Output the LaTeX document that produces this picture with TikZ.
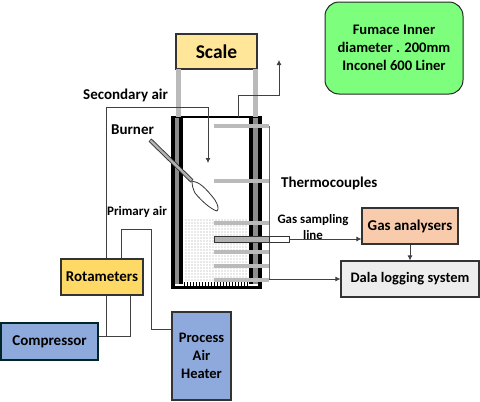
\documentclass[tikz,border=0pt]{standalone}
\usepackage{fontspec}
\setmainfont{Carlito}
\usepackage{tikz}
\usetikzlibrary{arrows.meta}
\definecolor{scalefill}{RGB}{255,230,153}
\definecolor{rotafill}{RGB}{255,217,102}
\definecolor{bluefill}{RGB}{142,169,219}
\definecolor{gasfill}{RGB}{248,203,173}
\definecolor{logfill}{RGB}{237,237,237}
\definecolor{notefill}{RGB}{125,255,125}
\definecolor{tipblue}{RGB}{40,70,130}
\tikzset{
  unitbox/.style={draw=black!80, line width=1.1pt, inner sep=0pt, align=center, font=\bfseries\fontsize{15}{18}\selectfont},
  pipe/.style={draw=black!75, line width=0.8pt},
  flow/.style={pipe, -{Latex[length=5pt,width=5pt,fill=tipblue]}},
  rod/.style={draw=black!27, line width=3.4pt},
  lbl/.style={inner sep=0pt, font=\bfseries\fontsize{15}{18}\selectfont}
}
\begin{document}
\begin{tikzpicture}[x=1pt,y=-1pt]
\useasboundingbox (0,0) rectangle (480,402);
% units
\node [unitbox, fill=scalefill, minimum width=81pt, minimum height=35pt, font=\bfseries\fontsize{19.5}{22}\selectfont] (scale) at (216.5,51.5) {Scale};
\node [draw=black!85, line width=1pt, fill=notefill, rounded corners=14pt, minimum width=138pt, minimum height=92pt, align=center, inner sep=0pt, font=\bfseries\fontsize{14.6}{18}\selectfont] (note) at (394,48) {Fumace Inner\\diameter . 200mm\\Inconel 600 Liner};
\node [unitbox, fill=rotafill, minimum width=82pt, minimum height=36pt] (rota) at (102,277) {Rotameters};
\node [unitbox, fill=bluefill, draw=black!70!teal, minimum width=97pt, minimum height=37pt] (comp) at (49.5,341.5) {Compressor};
\node [unitbox, fill=bluefill, minimum width=59pt, minimum height=88pt, font=\bfseries\fontsize{14.5}{18}\selectfont] (heater) at (201.5,356) {Process\\Air\\Heater};
\node [unitbox, fill=gasfill, minimum width=96pt, minimum height=36pt] (gas) at (410,226) {Gas analysers};
\node [unitbox, fill=logfill, minimum width=138pt, minimum height=36pt, font=\bfseries\fontsize{14.5}{18}\selectfont] (log) at (410,279) {Dala logging system};
% packed bed
\foreach \y in {220,223,...,281} {
  \foreach \x in {186,189,...,248} {
    \fill [black!38] (\x,\y) circle (0.6pt);
  }
}
% furnace walls
\fill [black!45] (175,118) rectangle (180,284);
\fill [black!45] (253,118) rectangle (258,284);
\draw [line width=3.6pt] (172.8,117) -- (172.8,287.5) -- (260.2,287.5) -- (260.2,117);
\draw [line width=3.6pt] (181.2,117) -- (181.2,284);
\draw [line width=3.6pt] (251,117) -- (251,284);
\draw [line width=1.2pt] (171,117) -- (262,117);
\foreach \x in {184,187,...,249} {
  \draw [line width=0.5pt] (\x,282) -- (\x,286);
}
% hanging rods
\draw [rod, line width=5pt] (178,69) -- (178,117);
\draw [rod, line width=5pt] (255,69) -- (255,117);
% thermocouples
\draw [draw=black!60, line width=0.8pt] (269,126) -- (269,279);
\foreach \y in {126,181,223,252,266,280} {
  \draw [rod] (214,\y) -- (269,\y);
}
% burner
\draw [black!80, line width=4.2pt] (150,140) -- (192,181);
\draw [black!30, line width=2.4pt] (150.5,140.5) -- (191.5,180.5);
\draw [black!80, fill=white, line width=0.8pt] (192,181) .. controls (199,182) and (205,187) .. (215,200) .. controls (218,205) and (219,209) .. (217,211) .. controls (213,210) and (204,204) .. (195,193) .. controls (193,189) and (192,185) .. (192,181) -- cycle;
% gas sampling probe
\node [draw=black!80, line width=0.8pt, fill=black!30, minimum width=55pt, minimum height=6pt, inner sep=0pt] (probe) at (241.5,239) {};
\node [draw=black!80, line width=0.8pt, fill=white, minimum width=20pt, minimum height=6pt, inner sep=0pt] (probeend) at (279,239) {};
% labels
\node [lbl, anchor=west] (secair) at (83,95) {Secondary air};
\node [lbl, anchor=west] (burner) at (111,130) {Burner};
\node [lbl, anchor=west, font=\bfseries\fontsize{13}{16}\selectfont] (primair) at (107,212) {Primary air};
\node [lbl, anchor=west] (thermo) at (281,183) {Thermocouples};
\node [lbl, align=center, font=\bfseries\fontsize{12.9}{16}\selectfont] (gasline) at (313,227) {Gas sampling\\line};
% connectors
\coordinate (exhaust) at (279,60);
\coordinate (roof) at (238,117);
\coordinate (secin) at (208,163);
\coordinate (tctap) at (269,279);
\draw [flow] (roof) -- (238,95) -| (exhaust);
\draw [pipe] (rota.north -| 106,0) -- (106,107) -| (208,150);
\draw [flow] (208,150) -- (secin);
\draw [pipe] (rota.north -| 121,0) -- (121,229) -| (151,329) -- (151,329 -| heater.west);
\draw [pipe] (rota.south -| 106,0) -- (106,336);
\draw [pipe] (rota.south -| 130,0) -- (130,336) -- (comp.east |- 130,336);
\draw [flow] (probeend.east) -- (gas.west |- probeend.east);
\draw [flow] (gas.south) -- (log.north);
\draw [flow] (tctap) -- (log.west);
\end{tikzpicture}
\end{document}
